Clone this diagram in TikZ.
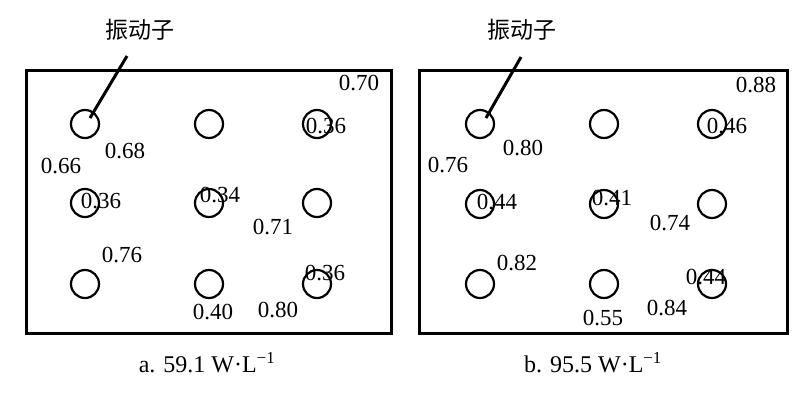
\documentclass[tikz,border=0pt]{standalone}
\usepackage{fontspec}
\setmainfont{Liberation Serif}
\newfontfamily\cjk{Noto Sans CJK SC}
\begin{document}
\begin{tikzpicture}[x=1pt,y=-1pt,
  vib/.style={circle,draw,line width=2.2pt,minimum size=28pt,inner sep=0pt},
  val/.style={inner sep=0pt,font=\fontsize{23}{23}\selectfont},
  captxt/.style={inner sep=0pt,font=\fontsize{24}{24}\selectfont},
  zh/.style={inner sep=0pt,font=\cjk\fontsize{23}{23}\selectfont},
  frame/.style={draw,line width=3pt},
  leader/.style={draw,line width=3pt}]
\useasboundingbox (0,0) rectangle (800,400);
% ---------- panel a ----------
\draw[frame] (26,70) rectangle (391,333);
\foreach \r/\y in {1/124,2/203,3/284}{
  \node[vib] (a\r1) at (85,\y) {};
  \node[vib] (a\r2) at (209,\y) {};
  \node[vib] (a\r3) at (317,\y) {};
}
\node[zh] (za) at (140,30) {振动子};
\coordinate (la) at (127,56);
\draw[leader] (la) -- ([shift={(5,-6)}]a11.center);
\node[val] (va1) at (359,83) {0.70};
\node[val] (va2) at (326,126) {0.36};
\node[val] (va3) at (125,151) {0.68};
\node[val] (va4) at (61,166) {0.66};
\node[val] (va5) at (101,201) {0.36};
\node[val] (va6) at (220,195) {0.34};
\node[val] (va7) at (273,227) {0.71};
\node[val] (va8) at (122,255) {0.76};
\node[val] (va9) at (325,273) {0.36};
\node[val] (va10) at (213,312) {0.40};
\node[val] (va11) at (278,310) {0.80};
\node[captxt] (capa) at (207,363) {a. 59.1 W·L\textsuperscript{−1}};
% ---------- panel b ----------
\draw[frame] (419,70) rectangle (787,333);
\foreach \r/\y in {1/124,2/204,3/284}{
  \node[vib] (b\r1) at (480,\y) {};
  \node[vib] (b\r2) at (604,\y) {};
  \node[vib] (b\r3) at (712,\y) {};
}
\node[zh] (zb) at (522,30) {振动子};
\coordinate (lb) at (521,57);
\draw[leader] (lb) -- ([shift={(6,-6)}]b11.center);
\node[val] (vb1) at (756,85) {0.88};
\node[val] (vb2) at (727,126) {0.46};
\node[val] (vb3) at (523,148) {0.80};
\node[val] (vb4) at (448,165) {0.76};
\node[val] (vb5) at (497,202) {0.44};
\node[val] (vb6) at (612,198) {0.41};
\node[val] (vb7) at (670,223) {0.74};
\node[val] (vb8) at (517,263) {0.82};
\node[val] (vb9) at (706,277) {0.44};
\node[val] (vb10) at (667,308) {0.84};
\node[val] (vb11) at (603,318) {0.55};
\node[captxt] (capb) at (593,363) {b. 95.5 W·L\textsuperscript{−1}};
\end{tikzpicture}
\end{document}
